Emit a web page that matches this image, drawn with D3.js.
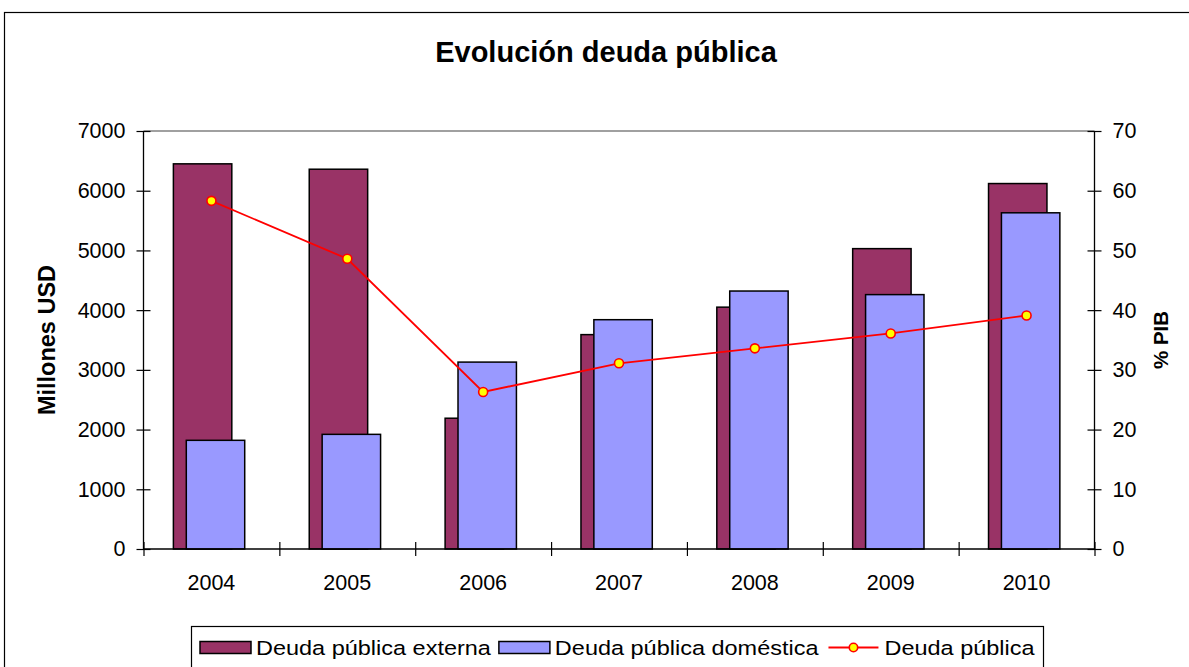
<!DOCTYPE html>
<html>
<head>
<meta charset="utf-8">
<script src="https://cdn.jsdelivr.net/npm/d3@7"></script>
<style>
  html, body { margin: 0; padding: 0; background: #fff; }
  svg { display: block; }
  text { font-family: "Liberation Sans", Arial, sans-serif; fill: #000; }
</style>
</head>
<body>
<svg id="chart" width="1189" height="667"></svg>
<script>
// ---- data ----
const years = ["2004", "2005", "2006", "2007", "2008", "2009", "2010"];
const externa = [6450, 6360, 2190, 3590, 4050, 5030, 6120];
const domestica = [1820, 1920, 3130, 3840, 4320, 4260, 5630];
const pibPct = [58.3, 48.6, 26.3, 31.1, 33.6, 36.1, 39.1];
const leftTicks = [0, 1000, 2000, 3000, 4000, 5000, 6000, 7000];
const rightTicks = [0, 10, 20, 30, 40, 50, 60, 70];
const titleText = "Evolución deuda pública";
const leftTitle = "Millones USD";
const rightTitle = "% PIB";
const seriesNames = ["Deuda pública externa", "Deuda pública doméstica", "Deuda pública"];

const colExt = "#993366", colDom = "#9999FF", colLine = "#FF0000", colMarker = "#FFFF00";

const svg = d3.select("#chart");
const plot = { left: 143.5, right: 1094.5, top: 131, bottom: 549 };

// outer frame
svg.append("rect").attr("x", 4.5).attr("y", 12.5).attr("width", 1200).attr("height", 700)
  .attr("fill", "#fff").attr("stroke", "#000").attr("stroke-width", 1.2);

// title
svg.append("text").attr("x", 606).attr("y", 62).attr("text-anchor", "middle")
  .attr("font-size", 29).attr("font-weight", "bold").text(titleText);

// scales
const x = d3.scaleBand().domain(years).range([plot.left, plot.right]).paddingInner(0).paddingOuter(0);
const yL = d3.scaleLinear().domain([0, 7000]).range([plot.bottom, plot.top]);
const yR = d3.scaleLinear().domain([0, 70]).range([plot.bottom, plot.top]);
const band = x.bandwidth();
const cx = d => x(d) + band / 2;

// plot area top border (gray)
svg.append("line").attr("x1", plot.left).attr("x2", plot.right).attr("y1", plot.top).attr("y2", plot.top)
  .attr("stroke", "#808080").attr("stroke-width", 1.5);

// bars
const barW = band * 0.43;
const g = svg.append("g");
g.selectAll("rect.ext").data(years).join("rect").attr("class", "ext")
  .attr("x", (d) => cx(d) - band * 0.28)
  .attr("y", (d, i) => yL(externa[i]))
  .attr("width", barW)
  .attr("height", (d, i) => yL(0) - yL(externa[i]))
  .attr("fill", colExt).attr("stroke", "#000").attr("stroke-width", 1.5);
g.selectAll("rect.dom").data(years).join("rect").attr("class", "dom")
  .attr("x", (d) => cx(d) - band * 0.185)
  .attr("y", (d, i) => yL(domestica[i]))
  .attr("width", barW)
  .attr("height", (d, i) => yL(0) - yL(domestica[i]))
  .attr("fill", colDom).attr("stroke", "#000").attr("stroke-width", 1.5);

// axes
const tickFont = 21.5;
const axL = svg.append("g").attr("transform", `translate(${plot.left},0)`)
  .call(d3.axisLeft(yL).tickValues(leftTicks).tickSize(7).tickPadding(11).tickFormat(d3.format("d")));
const axR = svg.append("g").attr("transform", `translate(${plot.right},0)`)
  .call(d3.axisRight(yR).tickValues(rightTicks).tickSize(7).tickPadding(11).tickFormat(d3.format("d")));
const xTickVals = d3.range(years.length + 1).map(i => plot.left + i * band);
const xLin = d3.scaleLinear().domain([plot.left, plot.right]).range([plot.left, plot.right]);
const axX = svg.append("g").attr("transform", `translate(0,${plot.bottom})`)
  .call(d3.axisBottom(xLin).tickValues(xTickVals).tickSize(7).tickFormat(""));

[axL, axR, axX].forEach(a => {
  a.select(".domain").attr("stroke", "#000").attr("stroke-width", 1.3);
  a.selectAll(".tick line").attr("stroke", "#000").attr("stroke-width", 1.2);
  a.selectAll("text").attr("font-size", tickFont).attr("font-family", "Liberation Sans, Arial, sans-serif").attr("fill", "#000");
});
// cross ticks: extend to the other side
axL.selectAll(".tick line").attr("x1", 7).attr("x2", -7);
axR.selectAll(".tick line").attr("x1", -7).attr("x2", 7);
axX.selectAll(".tick line").attr("y1", -7).attr("y2", 7);
axL.select(".domain").attr("d", `M0,${plot.top}V${plot.bottom}`);
axR.select(".domain").attr("d", `M0,${plot.top}V${plot.bottom}`);
axX.select(".domain").attr("d", `M${plot.left},0H${plot.right}`);

// category labels
svg.append("g").selectAll("text").data(years).join("text")
  .attr("x", d => cx(d)).attr("y", 590).attr("text-anchor", "middle")
  .attr("font-size", tickFont).text(d => d);

// line series
const line = d3.line().x((d, i) => cx(years[i])).y(d => yR(d));
svg.append("path").datum(pibPct).attr("d", line).attr("fill", "none")
  .attr("stroke", colLine).attr("stroke-width", 1.8);
svg.append("g").selectAll("circle").data(pibPct).join("circle")
  .attr("cx", (d, i) => cx(years[i])).attr("cy", d => yR(d)).attr("r", 4.5)
  .attr("fill", colMarker).attr("stroke", colLine).attr("stroke-width", 1.6);

// axis titles
svg.append("text").attr("transform", `translate(55,${(plot.top + plot.bottom) / 2}) rotate(-90)`)
  .attr("text-anchor", "middle").attr("font-size", 23.5).attr("font-weight", "bold").text(leftTitle);
svg.append("text").attr("transform", `translate(1168,${(plot.top + plot.bottom) / 2}) rotate(-90)`)
  .attr("text-anchor", "middle").attr("font-size", 20.5).attr("font-weight", "bold").text(rightTitle);

// legend (text drawn slightly wide, as in the reference)
const lg = svg.append("g");
lg.append("rect").attr("x", 191.5).attr("y", 626.5).attr("width", 852).attr("height", 80)
  .attr("fill", "#fff").attr("stroke", "#000").attr("stroke-width", 1.2);
const legFont = 20.5;
const stretch = 1.145;
function legText(xp, yp, s) {
  const t = lg.append("text").attr("x", xp).attr("y", yp).attr("font-size", legFont).text(s);
  const w = t.node().getComputedTextLength() * stretch;
  t.attr("textLength", w).attr("lengthAdjust", "spacingAndGlyphs");
  return w;
}
let lx = 200;
const ly = 647.5;
lg.append("rect").attr("x", lx).attr("y", ly - 6).attr("width", 51).attr("height", 12)
  .attr("fill", colExt).attr("stroke", "#000").attr("stroke-width", 1.5);
lx = lx + 56 + legText(lx + 56, ly + 7, seriesNames[0]) + 8;
lg.append("rect").attr("x", lx).attr("y", ly - 6).attr("width", 51).attr("height", 12)
  .attr("fill", colDom).attr("stroke", "#000").attr("stroke-width", 1.5);
lx = lx + 56 + legText(lx + 56, ly + 7, seriesNames[1]) + 10;
lg.append("line").attr("x1", lx).attr("x2", lx + 50).attr("y1", ly).attr("y2", ly)
  .attr("stroke", colLine).attr("stroke-width", 1.8);
lg.append("circle").attr("cx", lx + 25).attr("cy", ly).attr("r", 4.2)
  .attr("fill", colMarker).attr("stroke", colLine).attr("stroke-width", 1.6);
legText(lx + 56, ly + 7, seriesNames[2]);
</script>
</body>
</html>
